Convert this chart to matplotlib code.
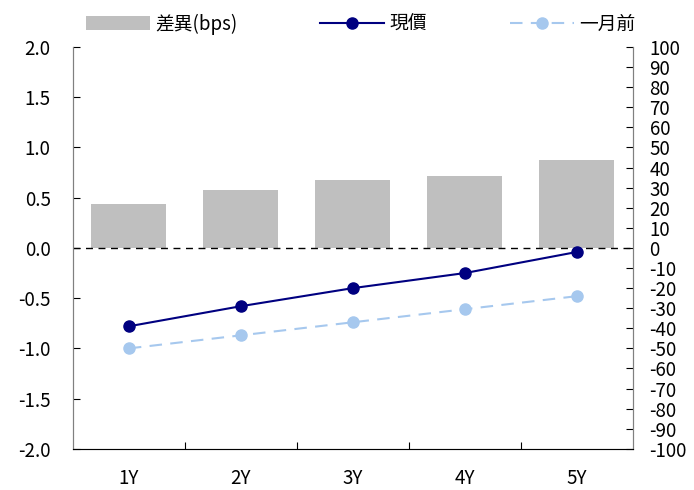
import numpy as np
import matplotlib.pyplot as plt
from matplotlib.ticker import MultipleLocator, FixedLocator

plt.rcParams['font.family'] = ['Noto Sans CJK TC', 'DejaVu Sans']
plt.rcParams['font.size'] = 13.5
plt.rcParams['axes.unicode_minus'] = False

tenors = ['1Y', '2Y', '3Y', '4Y', '5Y']
spread_bps = [22, 29, 34, 36, 44]
current = [-0.78, -0.58, -0.40, -0.25, -0.04]
month_ago = [-1.00, -0.87, -0.74, -0.61, -0.48]

x = np.arange(len(tenors))

fig = plt.figure(figsize=(6.94, 4.90), dpi=100)
ax = fig.add_axes([0.105, 0.084, 0.807, 0.820])
ax2 = ax.twinx()

# bars on the right (bps) axis, lines on the left axis drawn above them
bars = ax2.bar(x, spread_bps, width=0.67, color='#BFBFBF', label='差異(bps)')
ax.set_zorder(ax2.get_zorder() + 1)
ax.patch.set_visible(False)

ax.axhline(0, color='black', linestyle=(0, (5, 4)), linewidth=1)
l1, = ax.plot(x, current, color='#000080', marker='o', markersize=8,
              linewidth=1.5, label='現價')
l2, = ax.plot(x, month_ago, color='#A6C8EE', marker='o', markersize=8,
              linewidth=1.5, linestyle=(0, (6, 4)), label='一月前')

ax.set_xlim(-0.5, len(tenors) - 0.5)
ax.set_ylim(-2.0, 2.0)
ax2.set_ylim(-100, 100)
ax.yaxis.set_major_locator(MultipleLocator(0.5))
ax.yaxis.set_major_formatter(plt.FuncFormatter(lambda v, p: f'{v:.1f}'))
ax2.yaxis.set_major_locator(MultipleLocator(10))

ax.set_xticks(x)
ax.set_xticklabels(tenors)
ax.xaxis.set_minor_locator(FixedLocator(np.arange(0.5, len(tenors) - 0.5, 1)))
ax.tick_params(axis='x', which='major', length=0, pad=14)
ax.tick_params(axis='x', which='minor', direction='in', length=5, width=0.8)
ax.tick_params(axis='y', direction='in', length=5, width=0.8, pad=16)
ax2.tick_params(axis='y', direction='in', length=5, width=0.8, pad=12)

for a in (ax, ax2):
    a.spines['top'].set_visible(False)
    for s in ('left', 'right', 'bottom'):
        a.spines[s].set_color('#808080')
        a.spines[s].set_linewidth(0.8)
ax.spines['bottom'].set_color('black')

# legend entries placed one by one along the top
for handle, x0 in ((bars, 86), (l1, 320), (l2, 510)):
    fig.legend(handles=[handle], loc='center left',
               bbox_to_anchor=(x0 / 694, 1 - 24 / 490),
               frameon=False, handlelength=3.4, handletextpad=0.3,
               borderpad=0, borderaxespad=0, fontsize=13.5)

fig.savefig('out.png', dpi=100)
